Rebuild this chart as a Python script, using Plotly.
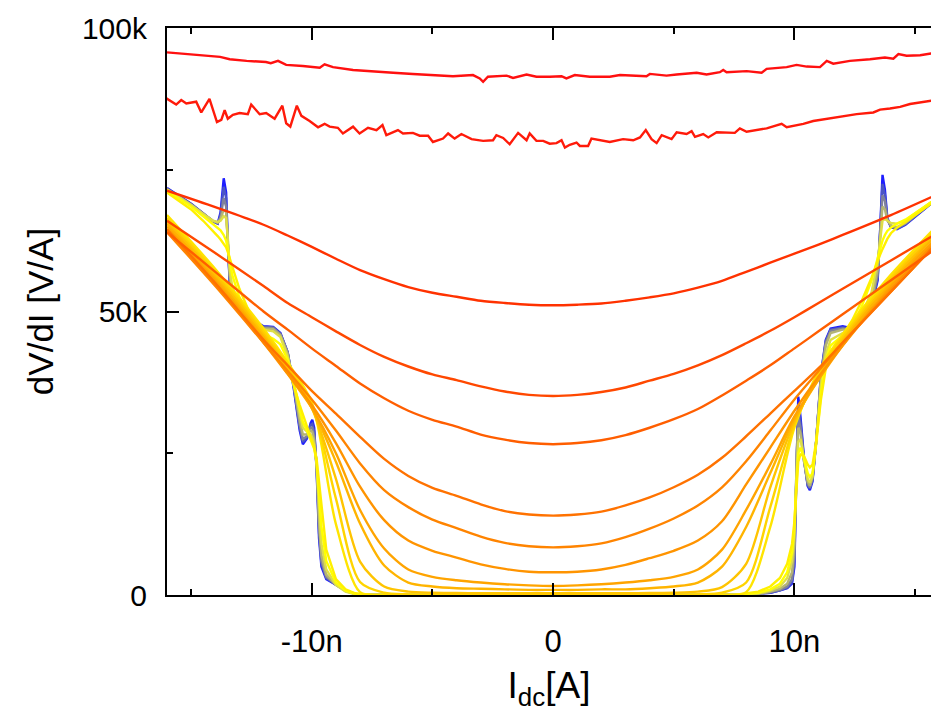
import plotly.graph_objects as go

NANO = 1e-9
KILO = 1e3

# ---------------- data (x in nA, y in kOhm) ----------------
# superconducting bundle (blue -> grey -> yellow), common current grid
XA = [-16, -15, -14.5, -14.1, -13.9, -13.78, -13.65, -13.55, -13.48, -13.4,
      -13.3, -13.0, -12.5, -12.0, -11.6, -11.3, -11.0, -10.75, -10.5, -10.37,
      -10.2, -10.05, -9.98, -9.9, -9.8, -9.7, -9.6, -9.4, -9.0, -8.6,
      -8.2, -7.5, 7.5, 8.5, 9.0, 9.4, 9.7, 9.9, 10.0, 10.05,
      10.1, 10.16, 10.25, 10.4, 10.55, 10.64, 10.75, 10.9, 11.1, 11.3,
      11.5, 12.0, 12.4, 12.8, 13.2, 13.45, 13.55, 13.65, 13.75, 13.85,
      14.0, 14.25, 14.6, 15.0, 15.5, 16]

A0 = [71.8, 69.0, 67.3, 65.9, 65.5, 67.5, 73.5, 71.0, 62.0, 55.0,
      52.0, 50.2, 48.6, 47.4, 47.3, 46.2, 42.8, 36.5, 29.0, 26.6,
      27.6, 30.3, 30.9, 29.5, 22.0, 10.0, 5.0, 2.8, 1.8, 0.8,
      0.2, 0.0, 0.0, 0.2, 0.4, 0.8, 1.2, 2.0, 5.0, 15.0,
      27.0, 35.0, 31.5, 24.0, 19.2, 18.5, 20.0, 27.0, 39.0, 45.0,
      47.0, 47.4, 47.0, 48.5, 51.0, 55.5, 64.0, 74.1, 71.5, 66.5,
      64.9, 64.5, 65.3, 66.7, 68.5, 70.2]
A1 = [71.7, 68.9, 67.3, 65.9, 65.5, 67.0, 72.0, 70.0, 62.0, 55.5,
      52.3, 50.3, 48.6, 47.3, 47.2, 46.1, 42.8, 36.8, 29.5, 27.0,
      27.8, 30.0, 30.2, 28.8, 22.5, 11.0, 5.5, 3.0, 1.8, 0.8,
      0.2, 0.0, 0.0, 0.2, 0.4, 0.8, 1.3, 2.3, 6.0, 16.0,
      26.5, 33.5, 30.5, 23.8, 19.4, 18.8, 20.3, 27.0, 38.8, 44.8,
      46.8, 47.2, 46.9, 48.5, 51.2, 56.0, 64.0, 72.5, 70.5, 66.3,
      64.9, 64.6, 65.4, 66.8, 68.5, 70.2]
A2 = [71.6, 68.9, 67.3, 66.0, 65.6, 66.6, 70.0, 68.5, 62.0, 56.0,
      52.8, 50.4, 48.5, 47.2, 47.1, 46.0, 42.8, 37.0, 30.0, 27.5,
      28.0, 29.5, 29.5, 28.0, 23.0, 12.0, 6.0, 3.2, 1.8, 0.8,
      0.2, 0.0, 0.0, 0.2, 0.5, 0.9, 1.5, 2.8, 7.0, 17.0,
      25.5, 31.5, 29.5, 23.5, 19.6, 19.0, 20.6, 27.0, 38.5, 44.5,
      46.6, 47.0, 46.8, 48.6, 51.5, 56.5, 63.5, 70.5, 69.5, 66.2,
      65.0, 64.7, 65.5, 66.9, 68.6, 70.2]
A3 = [71.5, 68.8, 67.2, 66.0, 65.7, 66.3, 68.0, 67.5, 62.5, 56.5,
      53.5, 50.6, 48.4, 47.0, 46.9, 45.8, 42.5, 37.2, 30.8, 28.3,
      28.3, 29.0, 28.8, 27.3, 23.0, 13.0, 7.0, 3.6, 1.8, 0.7,
      0.2, 0.0, 0.0, 0.2, 0.6, 1.1, 2.0, 4.0, 9.0, 17.5,
      24.5, 29.5, 28.5, 23.5, 20.0, 19.3, 20.8, 27.0, 38.0, 44.0,
      46.2, 46.8, 46.8, 48.8, 52.0, 57.5, 63.0, 68.5, 68.0, 66.1,
      65.2, 64.9, 65.6, 67.0, 68.7, 70.3]
A4 = [71.5, 68.8, 67.2, 66.0, 65.8, 66.0, 66.8, 66.5, 63.0, 57.5,
      54.5, 50.8, 48.3, 46.8, 46.5, 45.5, 42.0, 37.5, 32.0, 29.5,
      28.8, 28.3, 27.8, 26.5, 23.0, 15.0, 9.0, 4.5, 1.8, 0.6,
      0.1, 0.0, 0.0, 0.3, 0.8, 1.5, 3.0, 6.0, 11.0, 17.5,
      23.0, 27.0, 27.5, 24.0, 20.5, 19.8, 21.0, 27.0, 37.0, 42.5,
      45.0, 46.2, 47.0, 49.5, 53.5, 59.0, 62.5, 66.0, 66.3, 66.0,
      65.6, 65.5, 66.0, 67.3, 68.8, 70.3]
A5 = [71.3, 68.5, 66.8, 65.5, 64.8, 64.3, 63.5, 62.5, 61.0, 59.0,
      56.5, 52.5, 48.5, 46.0, 45.2, 44.2, 41.5, 37.5, 32.8, 30.5,
      29.0, 27.5, 26.8, 25.8, 23.5, 18.0, 12.0, 6.0, 2.2, 0.8,
      0.2, 0.0, 0.0, 0.4, 1.0, 2.0, 4.0, 7.5, 12.0, 17.0,
      21.5, 25.0, 26.0, 24.0, 21.5, 20.8, 21.5, 26.5, 35.5, 41.5,
      44.0, 45.8, 47.5, 51.0, 55.5, 59.5, 61.0, 62.5, 63.5, 64.2,
      64.8, 65.5, 66.2, 67.3, 68.8, 70.3]
A6 = [71.0, 68.0, 66.0, 64.3, 63.3, 62.7, 62.0, 61.3, 60.5, 59.5,
      58.0, 54.0, 49.0, 45.5, 43.5, 42.0, 40.0, 37.0, 33.5, 31.8,
      30.0, 28.0, 27.0, 26.0, 24.0, 20.0, 15.0, 8.0, 2.8, 1.0,
      0.3, 0.0, 0.0, 0.6, 1.5, 3.0, 5.5, 9.0, 13.0, 17.0,
      20.5, 23.5, 24.8, 24.5, 23.0, 22.5, 23.0, 27.0, 34.5, 40.0,
      43.0, 45.8, 48.5, 52.0, 56.0, 59.0, 60.0, 61.0, 62.0, 62.8,
      63.8, 64.8, 65.8, 67.0, 68.5, 70.0]
A_SERIES = [A0, A1, A2, A3, A4, A5, A6]
A_COLORS = ["#1e1eff", "#4b55c6", "#80829a", "#b4b474", "#dede48", "#ffff00", "#fff000"]

# resistive curves (yellow -> orange -> red), common current grid
XB = [-16, -14, -12, -11, -10, -9, -8, -7, -6, -5, -4, -3, -2, -1, 0,
      1, 2, 3, 4, 5, 6, 7, 8, 9, 10, 11, 12, 14, 16]
B1 = [67.0, 57.5, 47.0, 41.0, 34.0, 12.5, 0.5, 0.0, 0.0, 0.0, 0.0, 0.0, 0.0, 0.0, 0.0,
      0.0, 0.0, 0.0, 0.0, 0.0, 0.0, 0.0, 0.5, 12.0, 29.5, 39.5, 46.0, 56.5, 65.5]
B2 = [66.5, 57.0, 46.5, 40.5, 33.5, 17.0, 2.3, 0.4, 0.1, 0.0, 0.0, 0.0, 0.0, 0.0, 0.0,
      0.0, 0.0, 0.0, 0.0, 0.0, 0.1, 0.4, 2.2, 15.5, 30.0, 39.0, 45.5, 56.0, 65.0]
B3 = [66.0, 56.5, 46.0, 40.0, 33.0, 20.5, 5.9, 1.5, 0.6, 0.4, 0.35, 0.3, 0.3, 0.3, 0.3,
      0.3, 0.3, 0.3, 0.35, 0.4, 0.6, 1.4, 5.5, 19.0, 30.5, 38.5, 45.0, 55.5, 64.5]
B4 = [65.5, 56.0, 45.5, 39.5, 33.0, 23.5, 12.6, 5.2, 2.2, 1.5, 1.2, 1.1, 1.0, 0.9, 0.9,
      0.9, 1.0, 1.0, 1.2, 1.5, 2.2, 5.0, 12.0, 21.5, 31.0, 38.0, 44.5, 55.0, 64.0]
B5 = [65.0, 55.5, 45.0, 39.0, 33.0, 25.0, 15.0, 8.2, 4.5, 3.2, 2.6, 2.2, 1.9, 1.7, 1.6,
      1.7, 1.9, 2.2, 2.6, 3.2, 4.5, 8.0, 15.0, 23.0, 31.5, 38.0, 44.0, 54.5, 63.5]
B6 = [64.5, 55.0, 44.5, 39.0, 33.5, 26.8, 19.1, 13.2, 9.6, 7.8, 6.6, 5.4, 4.6, 4.1, 4.0,
      4.1, 4.5, 5.3, 6.5, 7.8, 9.6, 13.0, 19.5, 26.0, 32.5, 38.5, 44.0, 54.0, 63.0]
B7 = [64.0, 54.5, 44.5, 39.5, 34.5, 29.0, 23.2, 18.5, 15.5, 13.3, 11.8, 10.3, 9.2, 8.6, 8.4,
      8.6, 9.1, 10.2, 11.7, 13.5, 15.8, 19.0, 23.6, 29.0, 34.5, 39.5, 44.5, 53.5, 62.5]
B8 = [64.5, 55.0, 45.0, 40.5, 36.0, 32.0, 27.9, 24.0, 21.0, 18.9, 17.5, 16.0, 14.8, 14.2, 14.0,
      14.2, 14.7, 15.8, 17.2, 19.0, 21.2, 24.2, 28.0, 32.0, 36.0, 40.0, 44.5, 53.5, 62.5]
B9 = [64.0, 57.0, 50.0, 46.8, 43.5, 40.4, 37.3, 34.7, 32.5, 30.9, 29.7, 28.3, 27.4, 26.8, 26.6,
      26.8, 27.3, 28.2, 29.5, 31.0, 32.8, 35.2, 37.8, 40.5, 43.5, 46.5, 49.5, 55.5, 61.5]
B10 = [66.0, 60.3, 54.5, 51.5, 49.0, 46.5, 44.1, 42.0, 40.3, 38.9, 37.9, 36.8, 35.9, 35.3, 35.1,
       35.3, 35.8, 36.6, 37.8, 39.0, 40.5, 42.3, 44.4, 46.6, 49.0, 51.5, 54.0, 59.0, 64.0]
B11 = [71.3, 68.4, 65.3, 63.4, 61.4, 59.3, 57.3, 55.7, 54.3, 53.3, 52.6, 51.9, 51.5, 51.2, 51.1,
       51.2, 51.4, 51.9, 52.5, 53.2, 54.2, 55.4, 57.0, 58.6, 60.2, 61.8, 63.5, 67.0, 70.8]
B_SERIES = [B1, B2, B3, B4, B5, B6, B7, B8, B9, B10, B11]
B_COLORS = ["#ffe400", "#ffd400", "#ffc400", "#ffb400", "#ffa400", "#ff9400",
            "#ff8400", "#ff7200", "#ff5e00", "#ff4800", "#ff3200"]

# noisy high-temperature curves
XC1 = [-16.03, -15.62, -15.41, -15.20, -14.79, -14.58, -14.24, -13.93, -13.75, -13.61,
       -13.48, -13.27, -12.99, -12.65, -12.51, -12.16, -11.89, -11.54, -11.22, -11.06,
       -10.89, -10.62, -10.43, -10.09, -9.74, -9.47, -9.26, -8.92, -8.71, -8.29,
       -8.02, -7.67, -7.32, -7.07, -6.91, -6.43, -6.22, -5.81, -5.53, -5.18,
       -4.98, -4.56, -4.35, -4.08, -3.80, -3.38, -2.90, -2.49, -2.35, -2.07,
       -1.80, -1.45, -1.10, -0.97, -0.69, -0.41, -0.14, 0.14, 0.35, 0.49,
       0.69, 0.97, 1.11, 1.45, 1.59, 1.94, 2.35, 2.90, 3.32, 3.60,
       3.84, 4.08, 4.29, 4.50, 4.91, 5.12, 5.53, 5.74, 5.88, 6.22,
       6.43, 6.78, 7.53, 7.74, 8.02, 8.85, 9.47, 9.68, 10.37, 10.78,
       11.47, 12.03, 12.58, 13.27, 13.55, 13.96, 14.38, 14.79, 15.34, 15.66, 16.0]
C1 = [87.6, 86.5, 87.3, 86.7, 87.0, 85.1, 87.5, 83.4, 83.8, 85.5,
      84.0, 84.7, 85.0, 84.8, 86.5, 84.8, 85.0, 84.0, 86.3, 83.2,
      82.6, 86.3, 84.5, 83.6, 82.5, 83.1, 82.6, 82.4, 81.4, 82.6,
      81.4, 82.4, 82.0, 82.9, 81.1, 82.0, 81.4, 81.5, 81.0, 81.0,
      79.9, 80.5, 81.4, 80.5, 81.3, 80.4, 80.1, 80.2, 81.1, 80.6,
      79.5, 81.5, 80.2, 81.4, 80.1, 80.1, 79.6, 79.7, 80.2, 78.9,
      79.4, 79.8, 79.2, 79.2, 80.5, 80.2, 79.9, 80.4, 80.2, 80.7,
      82.0, 80.4, 79.7, 81.1, 80.4, 81.6, 81.3, 81.8, 80.8, 81.3,
      80.7, 81.6, 81.5, 82.3, 81.7, 82.3, 83.1, 82.5, 83.1, 83.6,
      84.1, 84.4, 84.8, 85.1, 85.6, 85.8, 86.1, 86.6, 87.0, 87.2, 87.4]
XC2 = [-16.0, -15.2, -14.5, -13.8, -13.4, -12.7, -11.9, -11.7, -11.4, -11.06,
       -10.37, -9.67, -9.47, -9.12, -8.29, -7.46, -6.63, -5.81, -4.98, -4.15,
       -3.32, -3.04, -2.90, -2.70, -1.93, -1.66, -1.10, -0.69, -0.14, 0.35,
       0.55, 0.90, 1.52, 2.35, 2.77, 3.87, 4.01, 4.70, 5.12, 5.95,
       6.36, 6.91, 7.05, 7.19, 8.02, 8.64, 8.85, 9.68, 10.09, 10.51,
       11.06, 11.34, 11.61, 12.30, 13.13, 13.75, 14.10, 14.31, 14.65, 15.21, 15.66, 16.0]
C2 = [95.7, 95.4, 95.1, 94.9, 94.5, 94.2, 94.0, 93.8, 94.2, 93.5,
      93.3, 93.0, 93.6, 93.1, 92.6, 92.3, 92.1, 91.9, 91.7, 91.5,
      91.7, 91.1, 90.5, 91.4, 91.6, 91.2, 91.8, 91.4, 91.4, 91.5,
      91.1, 91.7, 91.4, 91.4, 91.7, 91.5, 91.9, 91.6, 91.8, 92.1,
      91.8, 92.2, 92.6, 92.2, 92.4, 92.1, 92.8, 93.1, 93.5, 93.2,
      93.1, 94.2, 93.7, 94.2, 94.5, 94.8, 94.6, 95.4, 95.1, 95.2, 95.5, 95.6]
C_COLORS = ["#ff1a0a", "#ff1010"]

X_TICKS = [-10, 0, 10]
X_TICK_TEXT = ["-10n", "0", "10n"]
X_MINOR = [-15, -5, 5, 15]
Y_TICKS = [0, 50, 100]
Y_TICK_TEXT = ["0", "50k", "100k"]
Y_MINOR = [25, 75]

# ---------------- figure ----------------
fig = go.Figure()


def add(xs, ys, color, shape="linear"):
    fig.add_trace(go.Scatter(
        x=[v * NANO for v in xs], y=[v * KILO for v in ys], mode="lines",
        line=dict(color=color, width=2.4, shape=shape, smoothing=0.8),
        showlegend=False, hoverinfo="skip"))


for ys, c in zip(A_SERIES, A_COLORS):
    add(XA, ys, c)
for ys, c in zip(B_SERIES, B_COLORS):
    add(XB, ys, c, "spline")
add(XC1, C1, C_COLORS[0])
add(XC2, C2, C_COLORS[1])

FONT = "Liberation Sans, Arial, Helvetica, sans-serif"
fig.update_layout(
    width=931, height=713,
    margin=dict(l=167, r=0, t=28, b=118),
    plot_bgcolor="white", paper_bgcolor="white",
    font=dict(family=FONT, color="black"),
    showlegend=False,
)
fig.update_xaxes(
    range=[-16 * NANO, 15.66 * NANO],
    showline=True, linecolor="black", linewidth=2, mirror="ticks",
    ticks="inside", ticklen=12, tickwidth=2, tickcolor="black",
    tickvals=[v * NANO for v in X_TICKS], ticktext=X_TICK_TEXT,
    tickfont=dict(size=31, family=FONT), ticklabelstandoff=18,
    minor=dict(tickvals=[v * NANO for v in X_MINOR], ticks="inside",
               ticklen=6, tickwidth=2, tickcolor="black", showgrid=False),
    showgrid=False, zeroline=False,
    title=dict(text="I<sub>dc</sub>[A]", font=dict(size=37, family=FONT), standoff=14),
)
fig.update_yaxes(
    range=[0, 100 * KILO],
    showline=True, linecolor="black", linewidth=2, mirror=False,
    ticks="inside", ticklen=12, tickwidth=2, tickcolor="black",
    tickvals=[v * KILO for v in Y_TICKS], ticktext=Y_TICK_TEXT,
    tickfont=dict(size=30, family=FONT), ticklabelstandoff=12,
    minor=dict(tickvals=[v * KILO for v in Y_MINOR], ticks="inside",
               ticklen=6, tickwidth=2, tickcolor="black", showgrid=False),
    showgrid=False, zeroline=False,
    title=dict(text="dV/dI [V/A]", font=dict(size=35, family=FONT), standoff=18),
)

fig.write_html("out.html")
